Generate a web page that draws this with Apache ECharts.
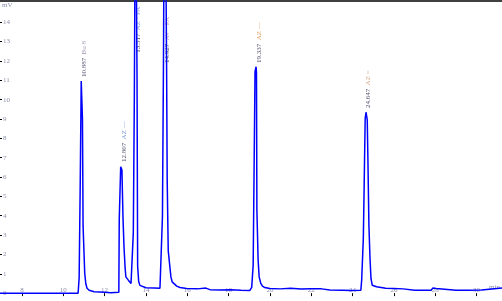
<!DOCTYPE html>
<html><head><meta charset="utf-8">
<script src="https://cdn.jsdelivr.net/npm/echarts@6/dist/echarts.min.js"></script>
<style>html,body{margin:0;padding:0;background:#fff}#c{width:502px;height:301px}</style>
</head><body><div id="c"></div>
<script>
// Chromatogram trace (retention time, min) and signal (mV)
const times = [6.94,10.72,10.76,10.77,10.82,10.87,10.90,10.93,10.96,11.04,11.09,11.15,11.25,11.50,12.00,12.30,12.69,
  12.71,12.78,12.84,12.89,12.94,12.99,13.03,13.15,13.28,13.36,13.39,13.44,13.49,13.54,13.57,13.60,13.65,13.71,13.76,
  14.00,14.40,14.68,14.76,14.80,14.85,14.90,14.96,15.00,15.03,15.08,15.16,15.21,15.27,15.36,15.49,15.65,15.97,16.50,
  16.90,17.10,17.60,18.10,18.60,19.03,19.12,19.19,19.24,19.28,19.33,19.35,19.37,19.43,19.48,19.56,19.64,19.75,20.00,
  20.50,21.00,21.50,22.00,22.50,22.90,23.50,24.00,24.40,24.44,24.52,24.56,24.61,24.65,24.71,24.74,24.79,24.84,24.89,
  24.95,25.16,25.60,26.00,26.45,26.50,27.00,27.80,27.88,28.05,28.12,29.00,29.60,30.24,30.30,31.23];
const signal = [0.0,0.0,0.05,0.8,5.5,10.97,10.9,9.0,3.45,1.03,0.5,0.25,0.15,0.07,0.04,0.02,0.04,
  3.8,6.53,6.36,3.95,2.4,1.36,0.84,0.67,0.5,0.41,3.1,10.07,21.0,16.0,11.3,1.4,0.6,0.4,0.33,
  0.28,0.27,0.25,0.15,3.95,11.95,24.0,18.0,11.9,5.85,2.2,1.36,0.84,0.58,0.5,0.36,0.29,0.24,0.22,
  0.26,0.18,0.16,0.17,0.15,0.14,0.3,1.45,7.0,11.45,11.7,11.4,4.3,1.7,0.84,0.5,0.36,0.29,0.24,
  0.22,0.25,0.21,0.23,0.22,0.16,0.15,0.14,0.15,0.67,2.83,5.5,9.04,9.35,8.95,7.05,3.52,1.88,0.76,
  0.41,0.33,0.25,0.24,0.22,0.15,0.15,0.15,0.26,0.24,0.15,0.15,0.15,0.16,0.24,0.26];

// Peak annotations
const peakTimes = ["10.887","12.807","13.517","14.927","19.337","24.647"];
const peakNames = ["Bu 8","AZ —","AZ · PA","AV · PA","AZ —","AZ ="];
const labelLevels = [11.17, 6.78, 12.42, 11.9, 11.9, 9.57];

// Axis ticks
const xTicks = [8,10,12,14,16,18,20,22,24,26,28,30];
const yTicks = [0,1,2,3,4,5,6,7,8,9,10,11,12,13,14];

const nameColors = ['#8a7aa0','#5a86d0','#7090d8','#c888a8','#d88a40','#d09070'];
const chart = echarts.init(document.getElementById('c'), null, {renderer:'canvas'});
const font = 'Liberation Serif';
const labelData = peakTimes.map((t,i)=>({
  value:[parseFloat(t)+0.12, labelLevels[i]],
  label:{formatter:'{t|'+t+'} {n'+i+'|'+peakNames[i]+'}'}
}));
const rich = {t:{color:'#1c1c44',fontSize:7,fontFamily:font}};
nameColors.forEach((c,i)=>{rich['n'+i]={color:c,fontSize:7,fontFamily:font};});

chart.setOption({
  animation:false,
  grid:{left:0,right:0,top:1,bottom:4},
  xAxis:[{
    type:'value',min:6.94,max:31.23,position:'bottom',
    axisLine:{show:false},
    axisTick:{show:true,customValues:xTicks,length:3,lineStyle:{color:'#000',width:1}},
    axisLabel:{show:true,inside:true,customValues:xTicks,margin:3,color:'#8a90a8',fontSize:7,fontFamily:font},
    splitLine:{show:false}
  },{
    type:'value',min:6.94,max:31.23,position:'top',
    axisLine:{show:true,lineStyle:{color:'#000',width:1.5}},
    axisTick:{show:false},axisLabel:{show:false},splitLine:{show:false}
  }],
  yAxis:{
    type:'value',min:-0.2,max:15.1,
    axisLine:{show:false},
    axisTick:{show:true,inside:true,customValues:yTicks,length:2,lineStyle:{color:'#000'}},
    axisLabel:{show:true,inside:true,customValues:yTicks,margin:3,align:'left',color:'#8a90a8',fontSize:7,fontFamily:font,
      verticalAlign:'middle',padding:[0,0,5,0]},
    splitLine:{show:false}
  },
  graphic:[
    {type:'text',left:2,top:2,style:{text:'mV',fill:'#8a90a8',font:'7px '+font}},
    {type:'text',left:489,top:284,style:{text:'min',fill:'#8a90a8',font:'7px '+font}}
  ],
  series:[{
    type:'line',data:times.map((t,i)=>[t,signal[i]]),symbol:'none',clip:true,
    lineStyle:{color:'#0000ff',width:1.5},silent:true
  },{
    type:'scatter',data:labelData,symbolSize:0,silent:true,
    label:{show:true,position:'inside',rotate:90,align:'left',verticalAlign:'middle',rich:rich}
  }]
});
</script></body></html>
